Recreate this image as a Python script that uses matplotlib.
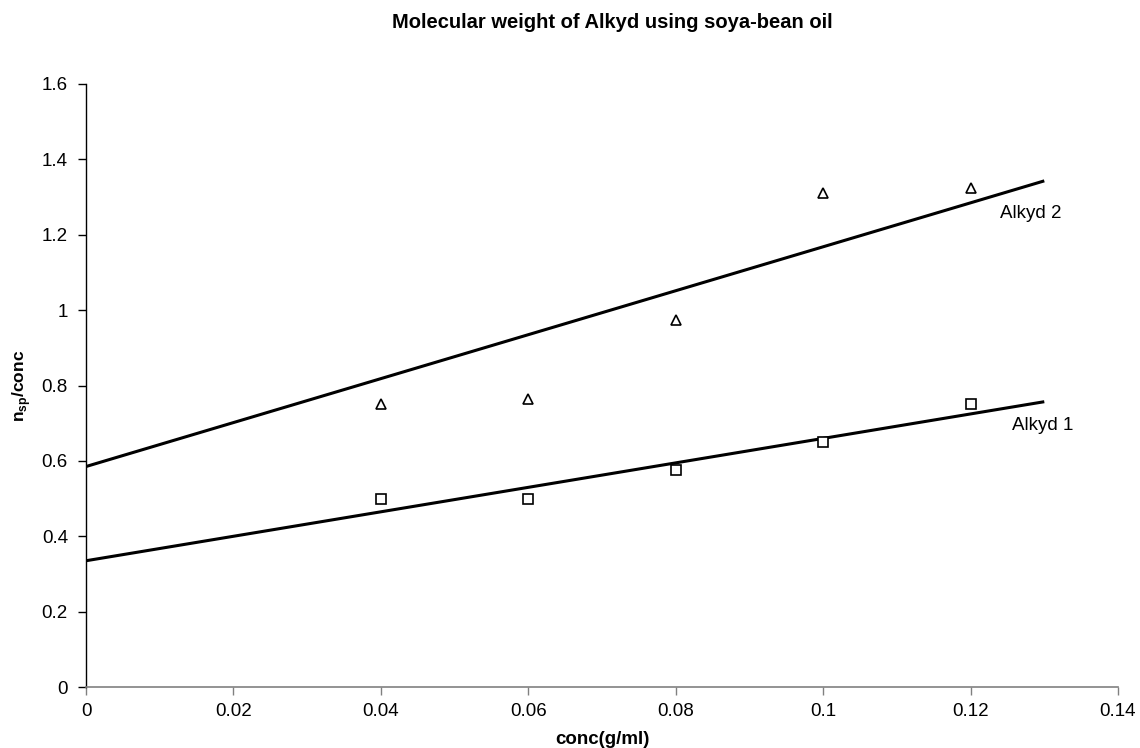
import matplotlib
matplotlib.use("Agg")
import matplotlib.pyplot as plt
import numpy as np

plt.rcParams['font.family'] = ['Liberation Sans', 'DejaVu Sans']

conc = [0.04, 0.06, 0.08, 0.10, 0.12]
alkyd1 = [0.50, 0.50, 0.575, 0.65, 0.75]
alkyd2 = [0.75, 0.765, 0.975, 1.31, 1.325]

trend_x = [0.0, 0.13]
trend1_y = [0.335, 0.757]
trend2_y = [0.585, 1.343]

xticks = [0, 0.02, 0.04, 0.06, 0.08, 0.1, 0.12, 0.14]
xticklabels = ["0", "0.02", "0.04", "0.06", "0.08", "0.1", "0.12", "0.14"]
yticks = [0, 0.2, 0.4, 0.6, 0.8, 1.0, 1.2, 1.4, 1.6]
yticklabels = ["0", "0.2", "0.4", "0.6", "0.8", "1", "1.2", "1.4", "1.6"]

fig = plt.figure(figsize=(11.4, 7.48), dpi=100)
ax = fig.add_axes([86/1140, 1-687/748, (1118-86)/1140, (687-84)/748])

ax.plot(trend_x, trend1_y, color='black', lw=2.2, solid_capstyle='butt', zorder=2)
ax.plot(trend_x, trend2_y, color='black', lw=2.2, solid_capstyle='butt', zorder=2)
ax.plot(conc, alkyd1, linestyle='none', marker='s', ms=7, mfc='white', mec='black', mew=1.2, zorder=3)
ax.plot(conc, alkyd2, linestyle='none', marker='^', ms=7, mfc='white', mec='black', mew=1.2, zorder=3)

ax.text(0.1282, 1.257, "Alkyd 2", fontsize=13.5, ha='center', va='center')
ax.text(0.1298, 0.695, "Alkyd 1", fontsize=13.5, ha='center', va='center')

ax.set_xlim(0, 0.14)
ax.set_ylim(0, 1.6)
ax.set_xticks(xticks)
ax.set_xticklabels(xticklabels)
ax.set_yticks(yticks)
ax.set_yticklabels(yticklabels)
ax.tick_params(axis='both', direction='out', length=5.5, width=1, labelsize=13.5, colors='black')
ax.tick_params(axis='x', pad=6, color='#808080')
ax.tick_params(axis='y', pad=7.5)

for s in ['top', 'right']:
    ax.spines[s].set_visible(False)
ax.spines['bottom'].set_color('#808080')
ax.spines['bottom'].set_linewidth(1.2)
ax.spines['left'].set_color('black')
ax.spines['left'].set_linewidth(1)

ax.set_xlabel("conc(g/ml)", fontsize=13.5, fontweight='bold')
ax.xaxis.set_label_coords(0.5, -(740-687)/603)
ax.xaxis.label.set_va('center')
ax.set_ylabel(r"n$_{\mathregular{sp}}$/conc", fontsize=12.5, fontweight='bold')
ax.yaxis.set_label_coords(-(86-22)/1032, 0.5)
ax.yaxis.label.set_va('center')
fig.text(612/1140, 1-22/748, "Molecular weight of Alkyd using soya-bean oil",
         fontsize=14.5, fontweight='bold', ha='center', va='center')

fig.savefig("out.png", dpi=100, facecolor='white')
